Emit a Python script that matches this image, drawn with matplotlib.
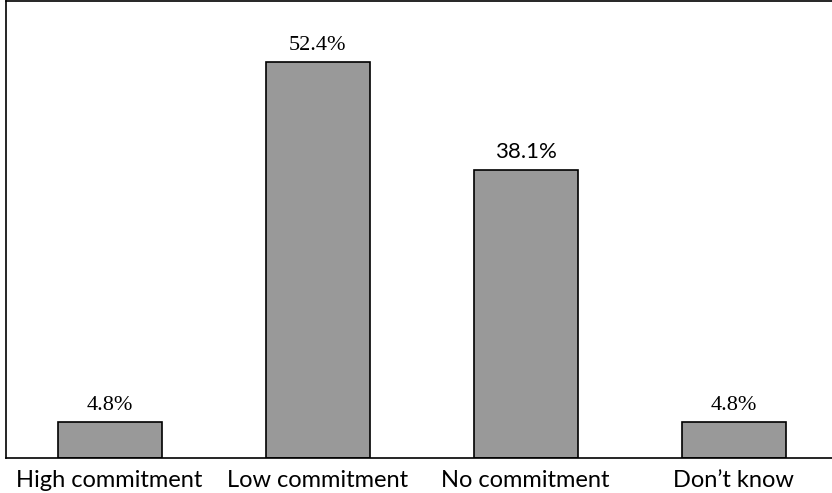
import matplotlib.pyplot as plt
import numpy as np

categories = ['High commitment', 'Low commitment', 'No commitment', 'Don\u2019t know']
values = [4.8, 52.4, 38.1, 4.8]
labels = ['4.8%', '52.4%', '38.1%', '4.8%']
# the source mixes a serif and a sans face for the value labels
label_fonts = ['Liberation Serif', 'Liberation Serif', 'Lato', 'Liberation Serif']

plt.rcParams['font.family'] = ['Lato', 'DejaVu Sans']

fig = plt.figure(figsize=(8.32, 4.93), dpi=100)
ax = fig.add_axes([5.5/832, 35/493, 830/832, 457.5/493])

x = np.arange(len(categories))
ax.bar(x, values, width=0.5, color='#999999', edgecolor='black', linewidth=1.2)
for xi, v, lab, fnt in zip(x, values, labels, label_fonts):
    ax.annotate(lab, (xi, v), xytext=(0, 8.6), textcoords='offset points',
                ha='center', va='baseline', fontsize=16, family=[fnt, 'DejaVu Sans'])

ax.set_xlim(-0.5, 3.49)
ax.set_ylim(0, 60.6)
ax.set_yticks([])
ax.set_xticks(x)
ax.set_xticklabels(categories, fontsize=17)
ax.tick_params(axis='x', length=0, pad=8.5)
for s in ax.spines.values():
    s.set_linewidth(1.2)

fig.savefig('out.png', dpi=100)
